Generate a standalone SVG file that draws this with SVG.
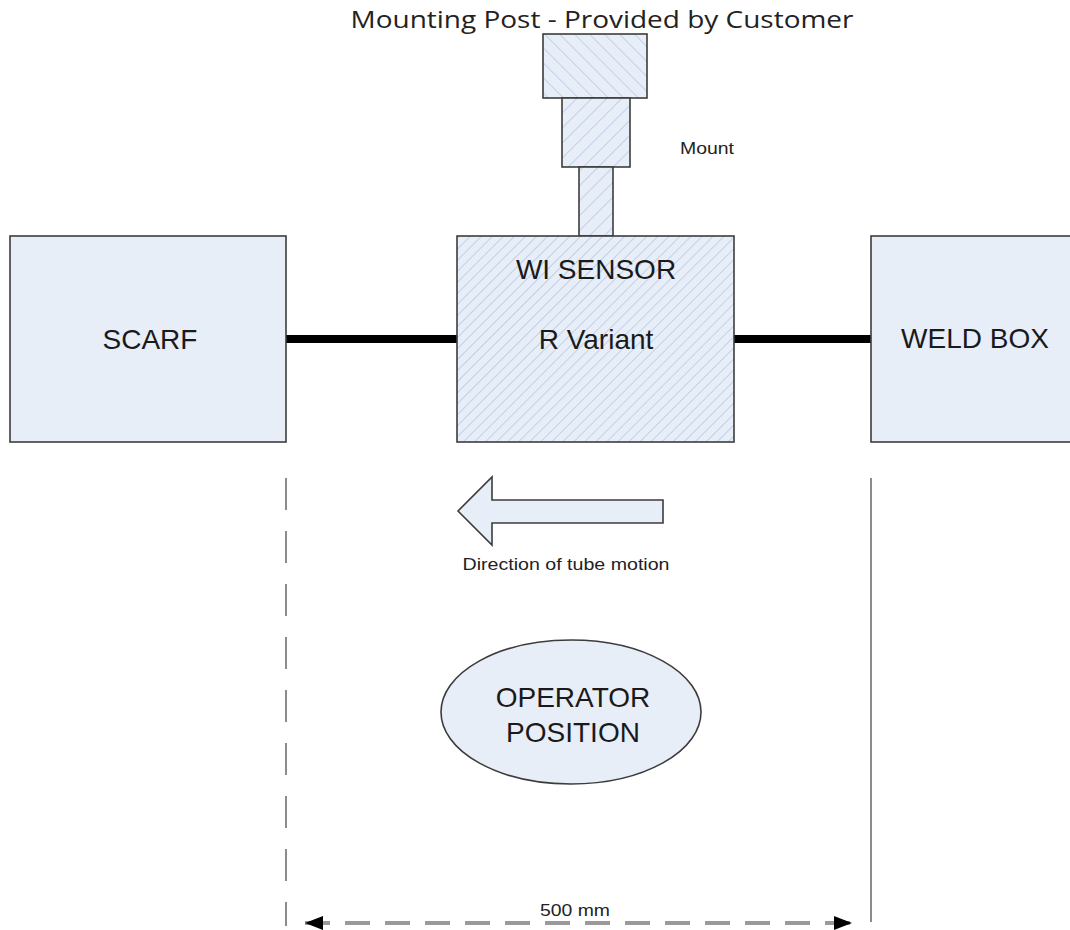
<svg xmlns="http://www.w3.org/2000/svg" width="1070" height="930" viewBox="0 0 1070 930">
<style>
.box{fill:#e7eef8;stroke:#3c3c3c;stroke-width:1.6}
.lbl{font-family:"Liberation Sans",Arial,sans-serif;font-size:28px;fill:#1a1a1a;text-anchor:middle}
.small{font-family:"Liberation Sans",Arial,sans-serif;font-size:16px;fill:#222}
.conn{stroke:#000;stroke-width:8;fill:none}
.guide{stroke:#8c8c8c;stroke-width:2;fill:none}
</style>
<defs>
<pattern id="hatchF" patternUnits="userSpaceOnUse" width="7.8" height="7.8" patternTransform="rotate(45)">
<rect width="7.8" height="7.8" fill="#e7eef8"/>
<line x1="0" y1="0" x2="0" y2="7.8" stroke="#a8bde0" stroke-width="1.2"/>
</pattern>
<pattern id="hatchM" patternUnits="userSpaceOnUse" width="10.6" height="10.6" patternTransform="rotate(45)">
<rect width="10.6" height="10.6" fill="#e7eef8"/>
<line x1="0" y1="0" x2="0" y2="10.6" stroke="#a8bde0" stroke-width="1.2"/>
</pattern>
<pattern id="hatchB" patternUnits="userSpaceOnUse" width="10.6" height="10.6" patternTransform="rotate(-45)">
<rect width="10.6" height="10.6" fill="#e7eef8"/>
<line x1="0" y1="0" x2="0" y2="10.6" stroke="#a8bde0" stroke-width="1.2"/>
</pattern>
<marker id="ah" markerUnits="userSpaceOnUse" markerWidth="18" markerHeight="14" refX="18" refY="7" orient="auto-start-reverse">
<path d="M0,0 L18,7 L0,14 Z" fill="#000"/>
</marker>
</defs>

<text x="602" y="28" font-family="'Open Sans','Noto Sans',sans-serif" font-size="23" fill="#222" text-anchor="middle" textLength="503" lengthAdjust="spacingAndGlyphs">Mounting Post - Provided by Customer</text>

<g id="mount">
<rect class="box" x="543" y="34" width="104" height="64" fill="url(#hatchB)" style="fill:url(#hatchB)"/>
<rect class="box" x="562" y="98" width="68" height="69" style="fill:url(#hatchM)"/>
<rect class="box" x="579" y="167" width="34" height="69" style="fill:url(#hatchM)"/>
<text class="small" x="680" y="154" textLength="54" lengthAdjust="spacingAndGlyphs">Mount</text>
</g>

<g id="connectors">
<line class="conn" x1="286" y1="339" x2="457" y2="339"/>
<line class="conn" x1="734" y1="339" x2="871" y2="339"/>
</g>

<g id="scarf">
<rect class="box" x="10" y="236" width="276" height="206"/>
<text class="lbl" x="150" y="349">SCARF</text>
</g>

<g id="sensor">
<rect class="box" x="457" y="236" width="277" height="206" style="fill:url(#hatchF)"/>
<text class="lbl" x="596" y="279">WI SENSOR</text>
<text class="lbl" x="596" y="349">R Variant</text>
</g>

<g id="weldbox">
<rect class="box" x="871" y="236" width="210" height="206"/>
<text class="lbl" x="975" y="348">WELD BOX</text>
</g>

<g id="direction">
<polygon class="box" points="458,511 492,477 492,500 663,500 663,523 492,523 492,545"/>
<text class="small" x="566" y="570" text-anchor="middle" textLength="207" lengthAdjust="spacingAndGlyphs">Direction of tube motion</text>
</g>

<g id="operator">
<ellipse class="box" cx="571" cy="712" rx="130" ry="72"/>
<text class="lbl" x="573" y="707">OPERATOR</text>
<text class="lbl" x="573" y="742">POSITION</text>
</g>

<g id="dimension">
<line class="guide" x1="286" y1="478" x2="286" y2="926" stroke-dasharray="32 21"/>
<line class="guide" x1="871" y1="478" x2="871" y2="922" stroke="#9a9a9a"/>
<line x1="305" y1="923" x2="852" y2="923" stroke="#9a9a9a" stroke-width="4" stroke-dasharray="25 15" marker-start="url(#ah)" marker-end="url(#ah)"/>
<text class="small" x="575" y="916" text-anchor="middle" textLength="70" lengthAdjust="spacingAndGlyphs">500 mm</text>
</g>
</svg>
